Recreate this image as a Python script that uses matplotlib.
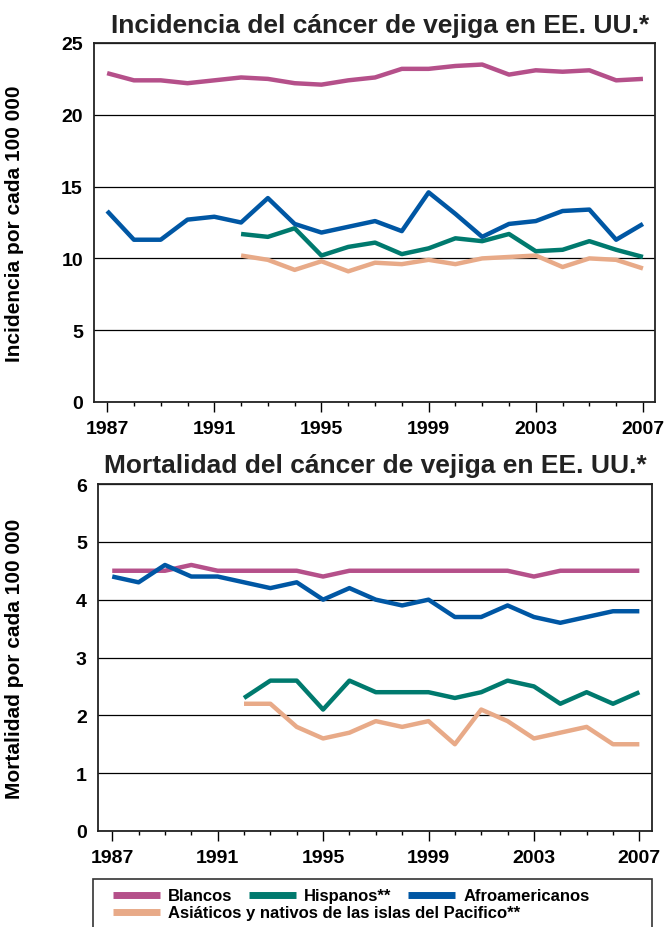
import matplotlib
matplotlib.use("Agg")
import matplotlib.pyplot as plt
from matplotlib.lines import Line2D
from matplotlib.patches import Rectangle
from matplotlib.ticker import MultipleLocator

plt.rcParams['font.family'] = ['Liberation Sans', 'DejaVu Sans']
plt.rcParams['font.weight'] = 'bold'

years = list(range(1987, 2008))
years_sub = list(range(1992, 2008))

# incidencia por 100 000
inc_blancos = [22.9, 22.4, 22.4, 22.2, 22.4, 22.6, 22.5, 22.2, 22.1, 22.4, 22.6,
               23.2, 23.2, 23.4, 23.5, 22.8, 23.1, 23.0, 23.1, 22.4, 22.5]
inc_afro = [13.3, 11.3, 11.3, 12.7, 12.9, 12.5, 14.2, 12.4, 11.8, 12.2, 12.6,
            11.9, 14.6, 13.1, 11.5, 12.4, 12.6, 13.3, 13.4, 11.3, 12.4]
inc_hisp = [11.7, 11.5, 12.1, 10.2, 10.8, 11.1, 10.3, 10.7, 11.4, 11.2, 11.7,
            10.5, 10.6, 11.2, 10.6, 10.1]
inc_asia = [10.2, 9.9, 9.2, 9.8, 9.1, 9.7, 9.6, 9.9, 9.6, 10.0, 10.1,
            10.2, 9.4, 10.0, 9.9, 9.3]

# mortalidad por 100 000
mort_blancos = [4.5, 4.5, 4.5, 4.6, 4.5, 4.5, 4.5, 4.5, 4.4, 4.5, 4.5,
                4.5, 4.5, 4.5, 4.5, 4.5, 4.4, 4.5, 4.5, 4.5, 4.5]
mort_afro = [4.4, 4.3, 4.6, 4.4, 4.4, 4.3, 4.2, 4.3, 4.0, 4.2, 4.0,
             3.9, 4.0, 3.7, 3.7, 3.9, 3.7, 3.6, 3.7, 3.8, 3.8]
mort_hisp = [2.3, 2.6, 2.6, 2.1, 2.6, 2.4, 2.4, 2.4, 2.3, 2.4, 2.6,
             2.5, 2.2, 2.4, 2.2, 2.4]
mort_asia = [2.2, 2.2, 1.8, 1.6, 1.7, 1.9, 1.8, 1.9, 1.5, 2.1, 1.9,
             1.6, 1.7, 1.8, 1.5, 1.5]

labels = ['Blancos', 'Hispanos**', 'Afroamericanos',
          'Asiáticos y nativos de las islas del Pacifico**']
c_blanco = '#b5508a'
c_hisp = '#007a6e'
c_afro = '#0057a4'
c_asia = '#e8aa88'

fig = plt.figure(figsize=(6.67, 9.28), dpi=100)
ax1 = fig.add_axes([94 / 667, 1 - 403 / 928, 561 / 667, 359 / 928])
ax2 = fig.add_axes([98 / 667, 1 - 832 / 928, 554 / 667, 347 / 928])

lw = 3.2


def style(ax, ymax, ystep, xlim):
    ax.set_xlim(*xlim)
    ax.set_ylim(0, ymax)
    ax.yaxis.set_major_locator(MultipleLocator(ystep))
    ax.set_xticks(range(1987, 2008, 4))
    ax.xaxis.set_minor_locator(MultipleLocator(1))
    ax.tick_params(axis='x', which='major', length=7, width=1, labelsize=14, pad=6, direction='out')
    ax.tick_params(axis='x', which='minor', length=3, width=1, direction='out')
    ax.tick_params(axis='y', length=0, labelsize=14, pad=8)
    ax.grid(axis='y', color='black', linewidth=0.9)
    ax.set_axisbelow(True)
    for s in ax.spines.values():
        s.set_linewidth(1.3)
        s.set_color('#222222')


for ax, blanco, afro, hisp, asia in [(ax1, inc_blancos, inc_afro, inc_hisp, inc_asia),
                                      (ax2, mort_blancos, mort_afro, mort_hisp, mort_asia)]:
    ax.plot(years, blanco, color=c_blanco, lw=lw, solid_capstyle='butt')
    ax.plot(years_sub, asia, color=c_asia, lw=lw, solid_capstyle='butt')
    ax.plot(years_sub, hisp, color=c_hisp, lw=lw, solid_capstyle='butt')
    ax.plot(years, afro, color=c_afro, lw=lw, solid_capstyle='butt')

style(ax1, 25, 5, (1986.51, 2007.45))
style(ax2, 6, 1, (1986.46, 2007.48))

ax1.set_title('Incidencia del cáncer de vejiga en EE. UU.*', fontsize=19,
              fontweight='bold', x=0.51, pad=8, color='#222222')
ax2.set_title('Mortalidad del cáncer de vejiga en EE. UU.*', fontsize=19,
              fontweight='bold', x=0.50, pad=8.5, color='#222222')
ax1.set_ylabel('Incidencia por cada 100 000', fontsize=15, fontweight='bold')
ax2.set_ylabel('Mortalidad por cada 100 000', fontsize=15, fontweight='bold')
ax1.yaxis.set_label_coords(-0.125, 0.5)
ax2.yaxis.set_label_coords(-0.134, 0.5)

# leyenda en dos filas
cols = [c_blanco, c_hisp, c_afro, c_asia]
handles = [Line2D([], [], color=c, lw=5, solid_capstyle='butt') for c in cols]
kw = dict(frameon=False, borderpad=0, borderaxespad=0, handlelength=2.8,
          handletextpad=0.5, columnspacing=1.0, loc='center left',
          prop={'size': 12, 'weight': 'bold'})
leg1 = fig.legend(handles[:3], labels[:3], ncol=3,
                  bbox_to_anchor=(113 / 667, 1 - 897 / 928), **kw)
leg2 = fig.legend(handles[3:], labels[3:], ncol=1,
                  bbox_to_anchor=(113 / 667, 1 - 914 / 928), **kw)
fig.add_artist(Rectangle((93 / 667, -0.01), 559 / 667, 0.01 + 48 / 928,
                         transform=fig.transFigure, fill=False,
                         edgecolor='#333333', linewidth=1.2))

fig.savefig('out.png', dpi=100)
